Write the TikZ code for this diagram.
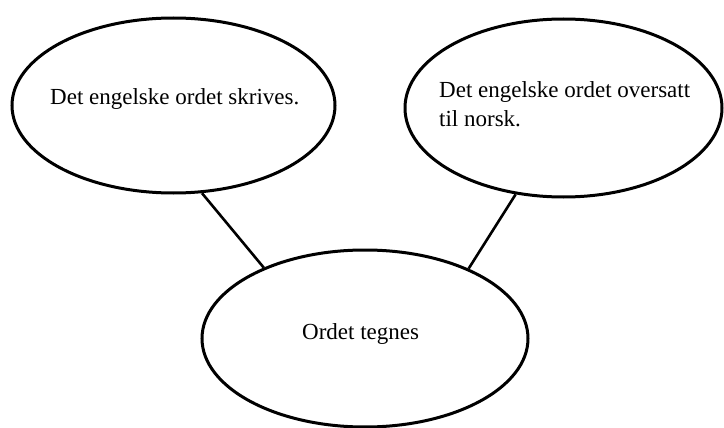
\documentclass[tikz,border=0pt]{standalone}
\usepackage{fontspec}
\setmainfont{Liberation Serif}
\usetikzlibrary{shapes.geometric}
\tikzset{
  boble/.style={draw, ellipse, line width=3pt, inner sep=0pt},
  tekst/.style={font=\fontsize{23}{29}\selectfont, inner sep=0pt},
  strek/.style={line width=2.6pt},
}

\begin{document}
\begin{tikzpicture}[x=1pt, y=-1pt]

\useasboundingbox (0,0) rectangle (724,428);

% the three bubbles
\node[boble, minimum width=323pt, minimum height=175pt] (skriv) at (173.5,105.5) {};
\node[boble, minimum width=317pt, minimum height=178pt] (oversett) at (563.5,108) {};
\node[boble, minimum width=326pt, minimum height=177pt] (tegn) at (365,338.5) {};

% texts inside the bubbles
\node[tekst, anchor=base west] (skrivtxt) at (50,105) {Det engelske ordet skrives.};
\node[tekst, anchor=base west, align=left] (oversetttxt) at (439,127)
  {Det engelske ordet oversatt\\til norsk.};
\node[tekst, anchor=base west] (tegntxt) at (302,339) {Ordet tegnes};

% connectors
\draw[strek] (skriv.288.8) -- (tegn.145.2);
\draw[strek] (oversett.241.6) -- (tegn.34.9);

\end{tikzpicture}
\end{document}
